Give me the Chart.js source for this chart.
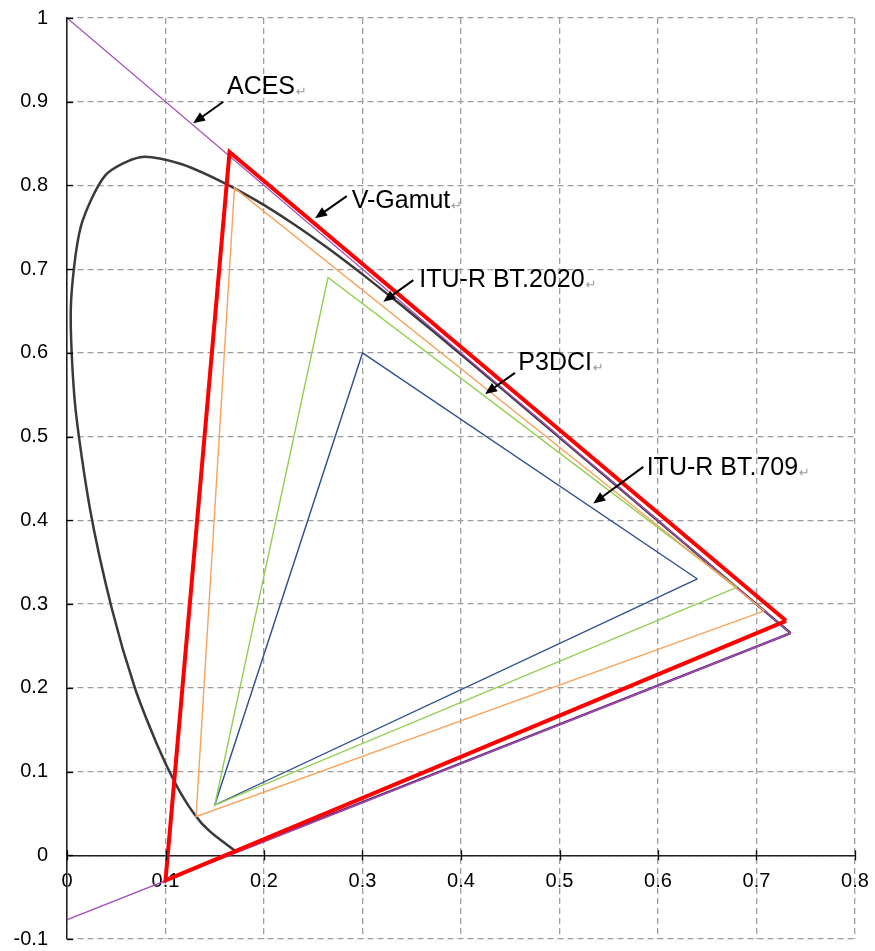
<!DOCTYPE html>
<html><head><meta charset="utf-8">
<script src="https://cdn.jsdelivr.net/npm/chart.js@4.4.1/dist/chart.umd.min.js"></script>
<style>html,body{margin:0;padding:0;background:#fff;} #wrap{width:875px;height:951px;position:relative;} canvas{display:block;}</style>
</head><body><div id="wrap"><canvas id="c" width="875" height="951" style="width:875px;height:951px"></canvas></div>
<script>
// CIE 1931 spectral locus, 380 nm .. 700 nm
const locusX = [0.1741,0.1740,0.1738,0.1736,0.1733,0.1730,0.1726,0.1721,0.1714,0.1703,0.1689,0.1669,0.1644,0.1611,0.1566,0.1510,0.1440,0.1355,0.1241,0.1096,0.0913,0.0687,0.0454,0.0235,0.0082,0.0039,0.0139,0.0389,0.0743,0.1142,0.1547,0.1929,0.2296,0.2658,0.3016,0.3373,0.3731,0.4087,0.4441,0.4788,0.5125,0.5448,0.5752,0.6029,0.6270,0.6482,0.6658,0.6801,0.6915,0.7006,0.7079,0.7140,0.7190,0.7230,0.7260,0.7283,0.7300,0.7311,0.7320,0.7334,0.7344,0.7347];
const locusY = [0.0050,0.0050,0.0049,0.0049,0.0048,0.0048,0.0048,0.0048,0.0051,0.0058,0.0069,0.0086,0.0109,0.0138,0.0177,0.0227,0.0297,0.0399,0.0578,0.0868,0.1327,0.2007,0.2950,0.4127,0.5384,0.6548,0.7502,0.8120,0.8338,0.8262,0.8059,0.7816,0.7543,0.7243,0.6923,0.6589,0.6245,0.5896,0.5547,0.5202,0.4866,0.4544,0.4242,0.3965,0.3725,0.3514,0.3340,0.3197,0.3083,0.2993,0.2920,0.2859,0.2809,0.2770,0.2740,0.2717,0.2700,0.2689,0.2680,0.2666,0.2656,0.2653];
// line of purples (700 nm -> 380 nm)
const purpleX = [0.7347, 0.1741];
const purpleY = [0.2653, 0.0050];
// gamut primaries R, G, B
const vGamutX = [0.730, 0.165, 0.100];
const vGamutY = [0.280, 0.840, -0.030];
const bt2020X = [0.708, 0.170, 0.131];
const bt2020Y = [0.292, 0.797, 0.046];
const p3X = [0.680, 0.265, 0.150];
const p3Y = [0.320, 0.690, 0.060];
const bt709X = [0.640, 0.300, 0.150];
const bt709Y = [0.330, 0.600, 0.060];
const acesX = [0.7347, 0.0000, 0.0001];
const acesY = [0.2653, 1.0000, -0.0770];

const xTickLabels = ['0','0.1','0.2','0.3','0.4','0.5','0.6','0.7','0.8'];
const yTickLabels = ['-0.1','0','0.1','0.2','0.3','0.4','0.5','0.6','0.7','0.8','0.9','1'];

const annotationTexts = ['ACES','V-Gamut','ITU-R BT.2020','P3DCI','ITU-R BT.709'];
const annotationTextAt = [[0.1624,0.9176],[0.289,0.7816],[0.3577,0.687],[0.4582,0.5875],[0.5885,0.463]];
const annotationArrowFrom = [[0.1587,0.900],[0.284,0.7873],[0.3516,0.687],[0.4548,0.5762],[0.5851,0.4639]];
const annotationArrowTo = [[0.128,0.8742],[0.2518,0.7607],[0.3211,0.6611],[0.4244,0.5508],[0.5343,0.4202]];

function pts(xs, ys, close) {
  const p = xs.map((x, i) => ({x: x, y: ys[i]}));
  if (close) p.push({x: xs[0], y: ys[0]});
  return p;
}
function line(data, color, width, tension) {
  return {data: data, showLine: true, borderColor: color, borderWidth: width, pointRadius: 0, pointHoverRadius: 0, fill: false, tension: tension || 0};
}

const FONT = '"Liberation Sans", Arial, sans-serif';

const extrasPlugin = {
  id: 'extras',
  afterDraw(chart) {
    const ctx = chart.ctx, xs = chart.scales.x, ys = chart.scales.y;
    ctx.save();
    // inner tick marks
    ctx.strokeStyle = '#000'; ctx.lineWidth = 1.3; ctx.setLineDash([]);
    const x0 = xs.getPixelForValue(0);
    ys.ticks.forEach(t => {
      const py = Math.round(ys.getPixelForValue(t.value)) + 0.5;
      ctx.beginPath(); ctx.moveTo(x0, py); ctx.lineTo(x0 + 6, py); ctx.stroke();
    });
    const y0 = ys.getPixelForValue(0);
    xs.ticks.forEach(t => {
      const px = Math.round(xs.getPixelForValue(t.value)) + 0.5;
      ctx.beginPath(); ctx.moveTo(px, y0 - 5); ctx.lineTo(px, y0 + 5); ctx.stroke();
    });
    // annotations
    annotationTexts.forEach((txt, i) => {
      const tx = xs.getPixelForValue(annotationTextAt[i][0]);
      const ty = ys.getPixelForValue(annotationTextAt[i][1]);
      ctx.font = '25px ' + FONT;
      ctx.fillStyle = '#000';
      ctx.textBaseline = 'middle';
      ctx.textAlign = 'left';
      ctx.fillText(txt, tx, ty);
      const w = ctx.measureText(txt).width;
      ctx.font = '13px "DejaVu Sans", sans-serif';
      ctx.fillStyle = '#9a9a9a';
      ctx.textBaseline = 'alphabetic';
      ctx.fillText('\u21B5', tx + w + 1, ty + 9);
      // arrow
      const ax = xs.getPixelForValue(annotationArrowFrom[i][0]);
      const ay = ys.getPixelForValue(annotationArrowFrom[i][1]);
      const bx = xs.getPixelForValue(annotationArrowTo[i][0]);
      const by = ys.getPixelForValue(annotationArrowTo[i][1]);
      const ang = Math.atan2(by - ay, bx - ax);
      const L = 12, H = 5;
      ctx.strokeStyle = '#000'; ctx.lineWidth = 2;
      ctx.beginPath(); ctx.moveTo(ax, ay);
      ctx.lineTo(bx - Math.cos(ang) * L * 0.8, by - Math.sin(ang) * L * 0.8); ctx.stroke();
      ctx.fillStyle = '#000';
      ctx.beginPath();
      ctx.moveTo(bx, by);
      ctx.lineTo(bx - Math.cos(ang) * L - Math.sin(ang) * H, by - Math.sin(ang) * L + Math.cos(ang) * H);
      ctx.lineTo(bx - Math.cos(ang) * L + Math.sin(ang) * H, by - Math.sin(ang) * L - Math.cos(ang) * H);
      ctx.closePath(); ctx.fill();
    });
    ctx.restore();
  }
};

function zeroPad(s) { s.paddingTop = 0; s.paddingBottom = 0; s.paddingLeft = 0; s.paddingRight = 0; }

new Chart(document.getElementById('c'), {
  type: 'scatter',
  data: {
    datasets: [
      line(pts(vGamutX, vGamutY, true), '#ff0000', 4),
      line(pts(bt2020X, bt2020Y, true), '#f7a35c', 1.4),
      line(pts(p3X, p3Y, true), '#92d050', 1.4),
      line(pts(bt709X, bt709Y, true), '#2e4f8f', 1.4),
      line(pts(acesX, acesY, true), '#a64dbd', 1.3),
      line(pts(purpleX, purpleY, false), '#5a2468', 2.5),
      line(pts(locusX, locusY, false), '#3a3a3a', 2.5, 0.25)
    ]
  },
  options: {
    responsive: false,
    animation: false,
    devicePixelRatio: 1,
    layout: {padding: {left: 0, right: 20, top: 18, bottom: 12}},
    plugins: {legend: {display: false}, tooltip: {enabled: false}, title: {display: false}},
    scales: {
      x: {
        type: 'linear', min: 0, max: 0.8,
        position: {y: 0},
        afterFit: s => { zeroPad(s); s.height = 0; },
        ticks: {stepSize: 0.1, autoSkip: false, color: '#000', font: {family: FONT, size: 20}, padding: 14.5, maxRotation: 0,
          callback: (v, i) => xTickLabels[i]},
        grid: {color: '#9c9c9c', lineWidth: 1.3, drawTicks: false, tickLength: 0},
        border: {display: true, color: '#222', width: 1.5, dash: [6, 4]}
      },
      y: {
        type: 'linear', min: -0.1, max: 1,
        position: 'left',
        afterFit: s => { s.width = 67; zeroPad(s); },
        ticks: {stepSize: 0.1, autoSkip: false, color: '#000', font: {family: FONT, size: 20}, padding: 19,
          callback: (v, i) => yTickLabels[i]},
        grid: {color: '#9c9c9c', lineWidth: 1.3, drawTicks: false, tickLength: 0},
        border: {display: true, color: '#222', width: 1.5, dash: [6, 4]}
      }
    }
  },
  plugins: [extrasPlugin]
});
</script>
</body></html>
